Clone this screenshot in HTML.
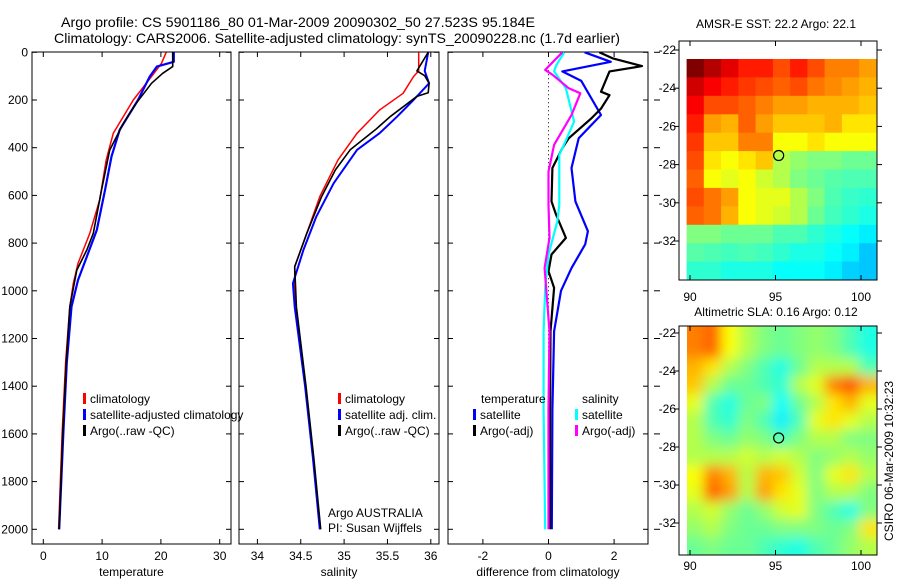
<!DOCTYPE html>
<html><head><meta charset="utf-8"><style>
body{margin:0;background:#fff;}
svg{display:block;font-family:"Liberation Sans",sans-serif;}
</style></head><body>
<svg id="fig" width="900" height="580" viewBox="0 0 900 580" xmlns="http://www.w3.org/2000/svg">
<defs>
<clipPath id="c1"><rect x="32" y="52" width="199" height="492"/></clipPath>
<clipPath id="c2"><rect x="239" y="52" width="200" height="492"/></clipPath>
<clipPath id="c3"><rect x="448" y="52" width="200" height="492"/></clipPath>
<clipPath id="cm2"><rect x="687" y="326" width="190" height="229"/></clipPath>
<filter id="blur" x="-10%" y="-10%" width="120%" height="120%"><feGaussianBlur stdDeviation="6"/></filter>
</defs>
<text x="61" y="27" font-size="14" textLength="474" lengthAdjust="spacingAndGlyphs">Argo profile: CS 5901186_80 01-Mar-2009 20090302_50 27.523S 95.184E</text>
<text x="54" y="43" font-size="14" textLength="566" lengthAdjust="spacingAndGlyphs">Climatology: CARS2006. Satellite-adjusted climatology: synTS_20090228.nc (1.7d earlier)</text>
<g id="g"></g>
</svg>
<script>
// ---- Data ----
const depthTicks = [0,200,400,600,800,1000,1200,1400,1600,1800,2000];
const tempTicks = [0,10,20,30];
const salTicks = [34,34.5,35,35.5,36];
const diffTicks = [-2,0,2];
const tempClimDepth = [0,46,102,200,339,451,619,759,885,969,1067,1300,1600,2000];
const tempClim = [20.9,20.1,18.4,15.3,11.9,10.7,9.6,7.9,5.9,5.1,4.5,3.8,3.2,2.6];
const tempSatDepth = [0,40,60,102,200,325,437,578,745,857,955,1067,1300,1600,2000];
const tempSat = [22.2,22.2,19.3,18.1,16.1,13.0,11.6,10.5,9.1,7.4,5.9,4.8,4.0,3.4,2.7];
const tempArgoDepth = [0,60,88,130,214,298,410,578,759,829,913,1067,1300,1600,2000];
const tempArgo = [22.0,22.0,20.3,18.4,15.8,13.6,11.3,9.9,8.5,7.4,5.7,4.5,3.9,3.3,2.7];
const salClimDepth = [0,78,102,172,242,339,451,605,759,899,1067,1400,1700,2000];
const salClim = [35.86,35.86,35.8,35.68,35.41,35.15,34.93,34.72,34.57,34.43,34.43,34.55,34.64,34.72];
const salSatDepth = [0,78,130,200,270,339,409,549,688,829,969,1067,1400,1700,2000];
const salSat = [35.97,35.93,35.98,35.8,35.61,35.41,35.15,34.88,34.68,34.53,34.41,34.43,34.55,34.64,34.72];
const salArgoDepth = [0,78,98,130,170,185,270,325,409,493,605,759,899,1067,1400,1700,2000];
const salArgo = [35.97,35.84,35.93,35.98,35.97,35.84,35.53,35.36,35.07,34.9,34.74,34.57,34.43,34.45,34.56,34.65,34.73];
const dTsatDepth = [0,40,80,120,263,360,485,625,750,805,905,1000,1170,1500,2000];
const dTsat = [1.1,1.9,0.42,1.0,1.6,0.92,0.7,0.82,1.2,1.12,0.7,0.38,0.17,0.12,0.1];
const dTargoDepth = [0,25,58,80,165,180,236,278,360,402,485,625,680,778,848,918,988,1170,1500,2000];
const dTargo = [1.55,1.95,2.85,1.86,1.6,1.86,1.6,1.3,0.62,0.42,0.12,0.09,0.23,0.53,0.09,0,0.17,0.06,0.05,0.05];
const dSsatDepth = [0,56,80,151,290,360,430,640,708,848,988,1170,1500,2000];
const dSsat = [0.48,0.23,0.17,0.53,0.78,0.56,0.33,0.33,0.27,0,-0.1,-0.15,-0.15,-0.1];
const dSargoDepth = [0,74,94,151,172,263,388,500,640,778,905,1170,1500,2000];
const dSargo = [0.42,-0.1,0.12,0.62,0.97,0.7,0.17,0,0,0.03,-0.12,0.03,0,0];
const lonTicks = [90,95,100];
const latTicks = [-22,-24,-26,-28,-30,-32];
const sstGrid = [
[100,95,90,85,85,80,85,80,75,75,72],
[92,88,85,82,80,78,80,76,74,72,70],
[88,80,80,78,75,72,72,70,70,70,68],
[85,72,70,78,72,68,68,68,70,65,65],
[82,68,68,75,75,62,62,65,62,62,62],
[80,65,62,65,68,55,52,50,50,48,48],
[78,62,60,62,58,55,50,48,46,45,45],
[80,76,72,62,60,60,55,50,45,43,42],
[78,76,70,62,60,58,55,48,44,42,40],
[50,50,48,48,48,45,45,42,40,38,36],
[46,45,44,45,44,42,40,40,38,36,32],
[42,42,40,40,40,38,38,38,36,33,32]];
const slaGrid = [
[75,78,62,55,50,48,50,52,50,45,40],
[70,65,55,50,45,40,48,55,55,55,45],
[68,55,48,48,45,42,55,60,75,80,70],
[60,45,40,48,50,38,48,55,65,70,60],
[55,45,42,50,45,36,45,60,65,60,55],
[55,50,48,52,50,45,50,55,55,50,50],
[55,55,55,58,55,58,55,50,52,55,52],
[62,75,70,55,70,68,58,50,60,65,55],
[60,78,72,55,72,65,60,50,55,55,50],
[55,58,52,48,52,58,60,50,45,40,50],
[52,55,50,48,48,50,50,50,48,50,65],
[48,50,48,48,45,42,40,45,48,52,55]];
const floatLon = 95.184, floatLat = -27.523;

// ---- Helpers ----
const NS = "http://www.w3.org/2000/svg";
const G = document.getElementById('g');
function mk(tag, attrs, parent){const e=document.createElementNS(NS,tag);for(const k in attrs)e.setAttribute(k,attrs[k]);(parent||G).appendChild(e);return e;}
const yDepth = d => 52.3 + d*0.2385;
const xTemp = v => 43.3 + v*5.88;
const xSal = v => 257.4 + (v-34)*86.7;
const xDiff = v => 548.5 + v*32.8;
const panels = [
 {name:'temperature-panel', x0:32, x1:231, xf:xTemp, ticks:tempTicks, label:'temperature'},
 {name:'salinity-panel', x0:239, x1:439, xf:xSal, ticks:salTicks, label:'salinity'},
 {name:'difference-panel', x0:448, x1:648, xf:xDiff, ticks:diffTicks, label:'difference from climatology'}];
const yTop=52, yBot=544;
panels.forEach((p,i)=>{
  const r=mk('rect',{x:p.x0,y:yTop,width:p.x1-p.x0,height:yBot-yTop,fill:'none',stroke:'#000','stroke-width':1});
  
  
  p.ticks.forEach(t=>{
    const x=p.xf(t);
    const a=mk('line',{x1:x,x2:x,y1:yBot,y2:yBot-5,stroke:'#000'});
    
    
    mk('line',{x1:x,x2:x,y1:yTop,y2:yTop+5,stroke:'#000'});
    const tx=mk('text',{x:x,y:560,'font-size':12,'text-anchor':'middle'});
    
    
    tx.textContent=t;
  });
  const xl=mk('text',{x:(p.x0+p.x1)/2,y:576,'font-size':12,'text-anchor':'middle'});
  
  
  xl.textContent=p.label;
  depthTicks.forEach(d=>{
    const y=yDepth(d);
    const t1=mk('line',{x1:p.x0,x2:p.x0+5,y1:y,y2:y,stroke:'#000'});
    
    
    mk('line',{x1:p.x1,x2:p.x1-5,y1:y,y2:y,stroke:'#000'});
    if(i==2){mk('line',{x1:p.x1+6,x2:p.x1+12,y1:y,y2:y,stroke:'#000'});}
    if(i==0){
      const tl=mk('text',{x:28,y:y+4,'font-size':12,'text-anchor':'end'});
      
      
      tl.textContent=d;
    }
  });
});
const zl=mk('line',{x1:xDiff(0),x2:xDiff(0),y1:yDepth(0)+10,y2:yDepth(2000),stroke:'#000','stroke-dasharray':'1,3'});



function series(name, xs, ds, xf, color, w, clip){
  const pts=xs.map((v,k)=>xf(v).toFixed(1)+','+yDepth(ds[k]).toFixed(1)).join(' ');
  const pl=mk('polyline',{points:pts,fill:'none',stroke:color,'stroke-width':w,'clip-path':'url(#'+clip+')','stroke-linejoin':'round'});
  
  
}
series('temp-climatology-line',tempClim,tempClimDepth,xTemp,'#f00',1.5,'c1');
series('temp-satellite-line',tempSat,tempSatDepth,xTemp,'#00f',2.2,'c1');
series('temp-argo-line',tempArgo,tempArgoDepth,xTemp,'#000',1.6,'c1');
series('sal-climatology-line',salClim,salClimDepth,xSal,'#f00',1.5,'c2');
series('sal-satellite-line',salSat,salSatDepth,xSal,'#00f',2,'c2');
series('sal-argo-line',salArgo,salArgoDepth,xSal,'#000',1.6,'c2');
series('diff-temp-satellite-line',dTsat,dTsatDepth,xDiff,'#00f',2.2,'c3');
series('diff-temp-argo-line',dTargo,dTargoDepth,xDiff,'#000',2.2,'c3');
series('diff-sal-satellite-line',dSsat,dSsatDepth,xDiff,'#0ff',2.2,'c3');
series('diff-sal-argo-line',dSargo,dSargoDepth,xDiff,'#f0f',2.2,'c3');

function legend(x,y,color,label,name){
  const r=mk('rect',{x:x,y:y-10,width:3,height:11,fill:color});
  
  
  const t=mk('text',{x:x+7,y:y,'font-size':12});
  
  
  t.textContent=label;
}
legend(83,403,'#f00','climatology','legend-temp-climatology');
legend(83,419,'#00f','satellite-adjusted climatology','legend-temp-satellite');
legend(83,435,'#000','Argo(..raw -QC)','legend-temp-argo');
legend(338,403,'#f00','climatology','legend-sal-climatology');
legend(338,419,'#00f','satellite adj. clim.','legend-sal-satellite');
legend(338,435,'#000','Argo(..raw -QC)','legend-sal-argo');
legend(473,419,'#00f','satellite','legend-diff-temp-satellite');
legend(473,435,'#000','Argo(-adj)','legend-diff-temp-argo');
legend(575,419,'#0ff','satellite','legend-diff-sal-satellite');
legend(575,435,'#f0f','Argo(-adj)','legend-diff-sal-argo');
[[481,403,'temperature','legend-temp-heading'],[582,403,'salinity','legend-sal-heading'],
 [328,517,'Argo AUSTRALIA','argo-australia-label'],[328,532,'PI: Susan Wijffels','pi-label']].forEach(a=>{
  const t=mk('text',{x:a[0],y:a[1],'font-size':12});
  
  
  t.textContent=a[2];
});

// ---- Maps ----
function jet(v){
  const c=x=>Math.max(0,Math.min(1,x));
  const r=c(1.5-Math.abs(4*v-3)), g=c(1.5-Math.abs(4*v-2)), b=c(1.5-Math.abs(4*v-1));
  return 'rgb('+Math.round(r*255)+','+Math.round(g*255)+','+Math.round(b*255)+')';
}
function map(opt){
  const lonX = lon => 690 + (lon-90)*17.1;
  const latY = lat => opt.y22 + (-22-lat)*opt.ppd;
  const gx=mk('g',opt.blur?{filter:'url(#blur)','clip-path':'url(#cm2)'}:{});
  
  
  const rows=opt.grid.length, cols=opt.grid[0].length;
  const lon0=89.8, lon1=100.9, latT=-22-(opt.y22-opt.top)/opt.ppd, latB=-22-(opt.bot-opt.y22)/opt.ppd;
  const pad = opt.blur?25:0;
  for(let r=0;r<rows;r++)for(let c=0;c<cols;c++){
    let xa=lonX(lon0+(lon1-lon0)*c/cols), xb=lonX(lon0+(lon1-lon0)*(c+1)/cols);
    let ya=latY(latT+(latB-latT)*r/rows), yb=latY(latT+(latB-latT)*(r+1)/rows);
    if(c==0)xa-=pad; if(c==cols-1)xb+=pad; if(r==0)ya-=pad; if(r==rows-1)yb+=pad;
    const cell=mk('rect',{x:xa.toFixed(1),y:ya.toFixed(1),width:(xb-xa+0.5).toFixed(1),height:(yb-ya+0.5).toFixed(1),fill:jet(opt.grid[r][c]/100)},gx);
    
    
  }
  const fr=mk('rect',{x:679,y:opt.top,width:198,height:opt.bot-opt.top,fill:'none',stroke:'#000'});
  
  
  lonTicks.forEach(l=>{
    const x=lonX(l);
    mk('line',{x1:x,x2:x,y1:opt.bot,y2:opt.bot-5,stroke:'#000'});
    mk('line',{x1:x,x2:x,y1:opt.top,y2:opt.top+5,stroke:'#000'});
    const t=mk('text',{x:x,y:opt.bot+opt.lab,'font-size':12,'text-anchor':'middle'});
    
    
    t.textContent=l;
  });
  latTicks.forEach(l=>{
    const y=latY(l);
    mk('line',{x1:674,x2:679,y1:y,y2:y,stroke:'#000'});
    mk('line',{x1:877,x2:882,y1:y,y2:y,stroke:'#000'});
    const t=mk('text',{x:676,y:y+4,'font-size':12,'text-anchor':'end'});
    
    
    t.textContent=l;
  });
  const ci=mk('circle',{cx:lonX(floatLon),cy:latY(floatLat),r:5,fill:'none',stroke:'#000','stroke-width':1.2});
  
  
  const tt=mk('text',{x:776,y:opt.titleY,'font-size':12,'text-anchor':'middle'});
  
  
  tt.textContent=opt.title;
}
map({name:'sst-map',grid:sstGrid,top:41,bot:280,y22:50,ppd:19.1,lab:21,titleY:28,title:'AMSR-E SST: 22.2 Argo: 22.1',blur:false});
map({name:'sla-map',grid:slaGrid,top:326,bot:555,y22:333,ppd:19,lab:15,titleY:316,title:'Altimetric SLA: 0.16 Argo: 0.12',blur:true});
const cs=mk('text',{x:0,y:0,'font-size':12,'text-anchor':'middle',transform:'translate(893,461) rotate(-90)'});


cs.textContent='CSIRO 06-Mar-2009 10:32:23';
</script>
</body></html>
